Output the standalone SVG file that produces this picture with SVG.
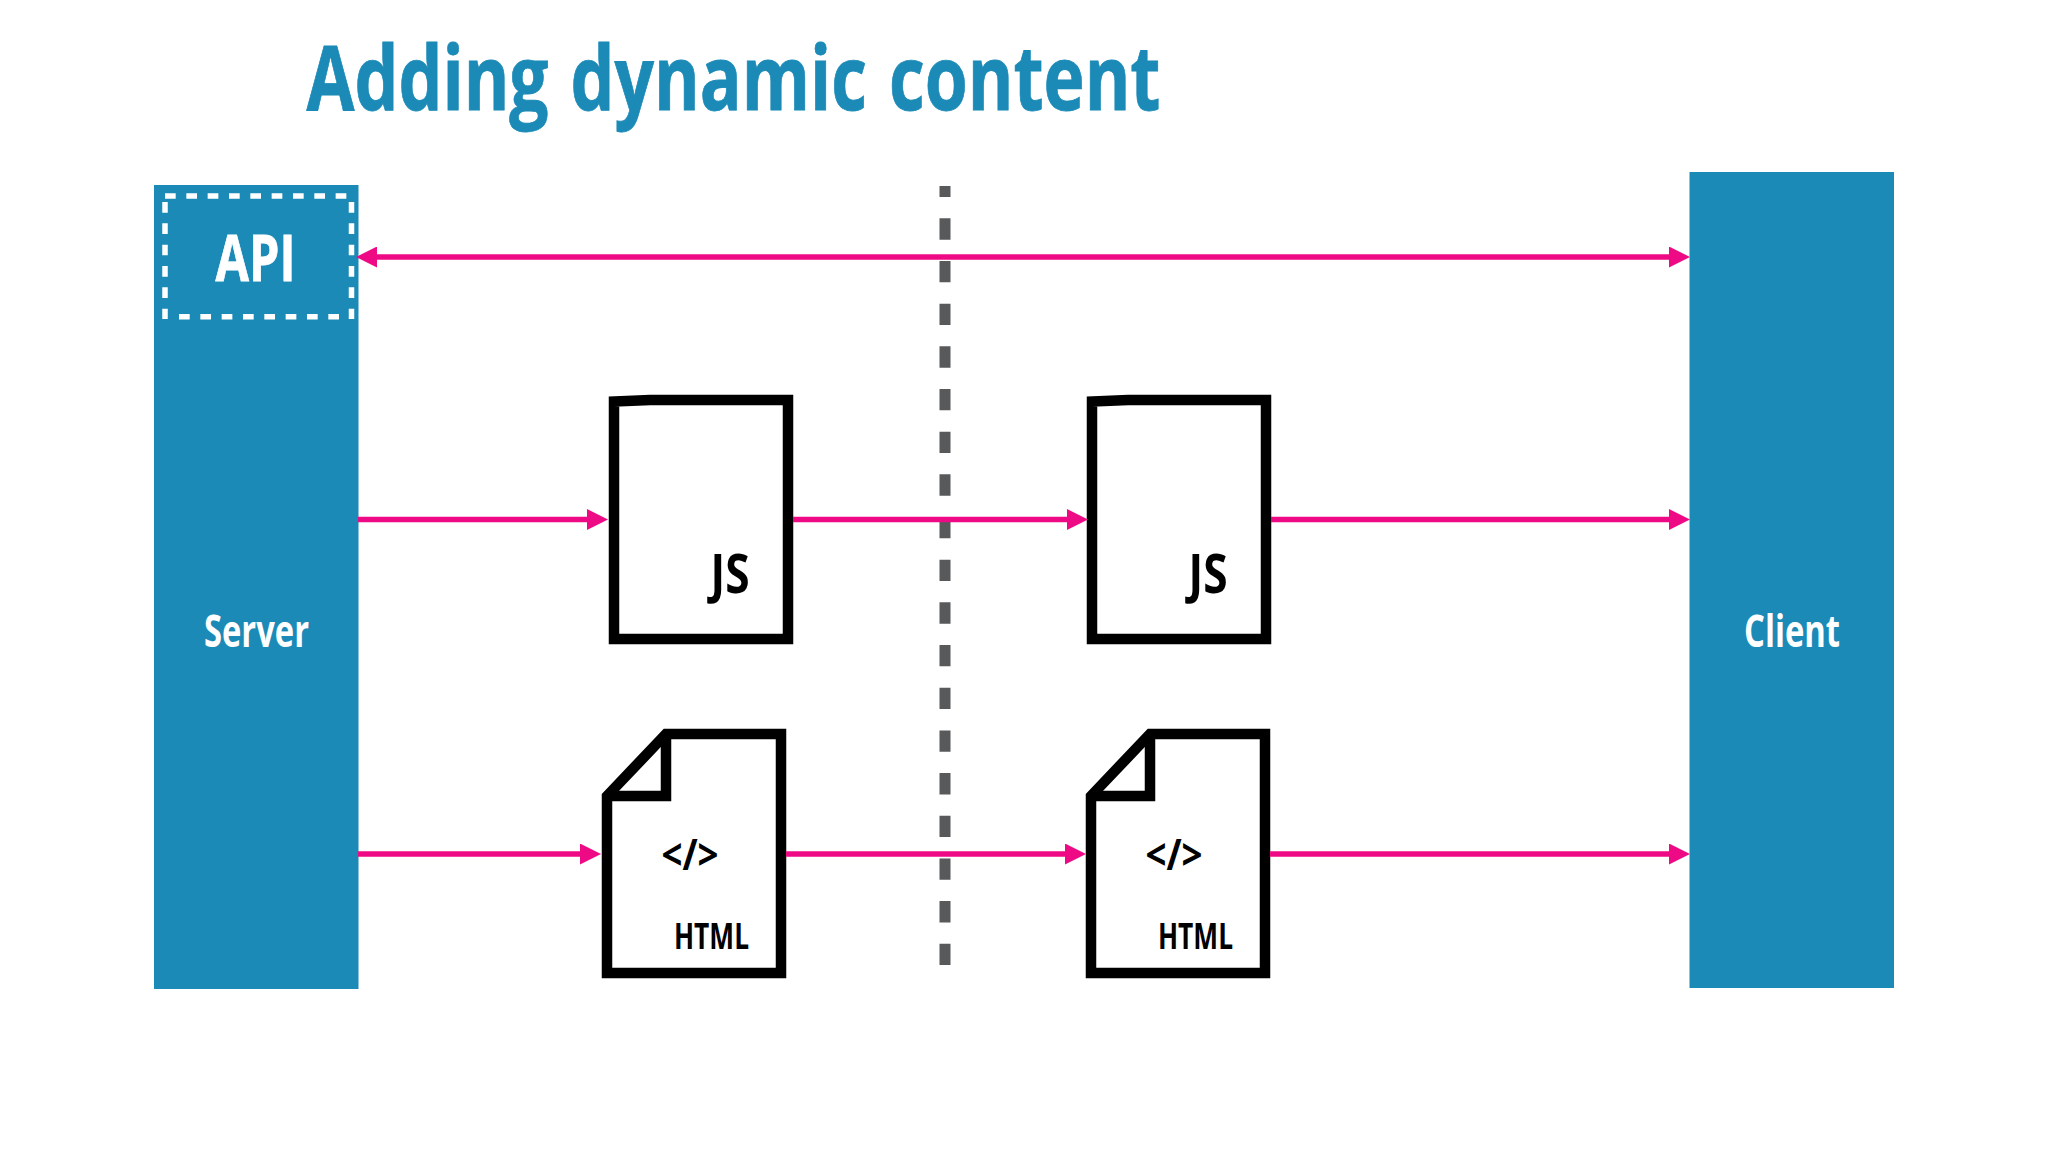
<svg xmlns="http://www.w3.org/2000/svg" width="2048" height="1152" viewBox="0 0 2048 1152">
<style>
.bar{fill:#1b8ab7}
.t{font-family:"Open Sans","Noto Sans",sans-serif;font-weight:700}
.w{fill:#fff}
.k{fill:#000}
.doc{fill:#fff;stroke:#000;stroke-width:10.5;stroke-linejoin:miter;stroke-miterlimit:6}
.fold{fill:none;stroke:#000;stroke-width:10.5;stroke-linejoin:miter}
.api{fill:none;stroke:#fff;stroke-width:5.5;stroke-dasharray:10.7 10.63}
.arrow{fill:none;stroke:#ee0a84;stroke-width:5.5;marker-end:url(#head)}
</style>
<defs>
<marker id="head" markerUnits="userSpaceOnUse" markerWidth="21" markerHeight="21" refX="11" refY="10.5" orient="auto-start-reverse"><path d="M0 0L21 10.5L0 21Z" fill="#ee0a84"/></marker>
</defs>
<rect width="2048" height="1152" fill="#fff"/>
<text id="title" class="t" x="306.500" y="109.500" font-size="90" fill="#1b8ab7" stroke="#1b8ab7" stroke-width="0.8" word-spacing="5" textLength="854" lengthAdjust="spacingAndGlyphs">Adding dynamic content</text>
<g id="server">
<rect class="bar" x="154" y="185" width="204.500" height="804"/>
<text class="t w" x="204" y="647" font-size="44" textLength="105" lengthAdjust="spacingAndGlyphs">Server</text>
</g>
<g id="api">
<path class="api" d="M165 196H347M165 202V319M351.500 202V319M179 316.700H340"/>
<text class="t w" x="215.500" y="281" font-size="64" textLength="80" lengthAdjust="spacingAndGlyphs" stroke="#fff" stroke-width="0.8">API</text>
</g>
<g id="client">
<rect class="bar" x="1689.500" y="172" width="204.500" height="816"/>
<text class="t w" x="1744" y="647" font-size="44" textLength="96" lengthAdjust="spacingAndGlyphs">Client</text>
</g>
<line id="divider" x1="945" y1="186" x2="945" y2="966" stroke="#58595b" stroke-width="11" stroke-dasharray="21.330 21.340" stroke-dashoffset="10.330"/>
<g id="js-server">
<path class="doc" d="M614 639V401.500L650 400H788V639Z"/>
<text class="t k" x="710.500" y="593" font-size="54" textLength="39" lengthAdjust="spacingAndGlyphs">JS</text>
</g>
<g id="js-client">
<path class="doc" d="M1092 639V401.500L1128 400H1266V639Z"/>
<text class="t k" x="1188.500" y="593" font-size="54" textLength="39" lengthAdjust="spacingAndGlyphs">JS</text>
</g>
<g id="html-server">
<path class="doc" d="M607 973V796L666 734H781V973Z"/>
<path class="fold" d="M607 796H666V734"/>
<text class="t k" x="661.500" y="870" font-size="43" textLength="57" lengthAdjust="spacingAndGlyphs">&lt;/&gt;</text>
<text class="t k" x="674" y="949" font-size="35" textLength="75" lengthAdjust="spacingAndGlyphs">HTML</text>
</g>
<g id="html-client">
<path class="doc" d="M1091 973V796L1150 734H1265V973Z"/>
<path class="fold" d="M1091 796H1150V734"/>
<text class="t k" x="1145.500" y="870" font-size="43" textLength="57" lengthAdjust="spacingAndGlyphs">&lt;/&gt;</text>
<text class="t k" x="1158" y="949" font-size="35" textLength="75" lengthAdjust="spacingAndGlyphs">HTML</text>
</g>
<g id="connectors">
<line class="arrow" style="marker-start:url(#head)" x1="366" y1="257" x2="1680" y2="257"/>
<line class="arrow" x1="358" y1="519.500" x2="598" y2="519.500"/>
<line class="arrow" x1="793" y1="519.500" x2="1078" y2="519.500"/>
<line class="arrow" x1="1271" y1="519.500" x2="1680" y2="519.500"/>
<line class="arrow" x1="358" y1="854" x2="591" y2="854"/>
<line class="arrow" x1="786" y1="854" x2="1076" y2="854"/>
<line class="arrow" x1="1270" y1="854" x2="1680" y2="854"/>
</g>
</svg>
